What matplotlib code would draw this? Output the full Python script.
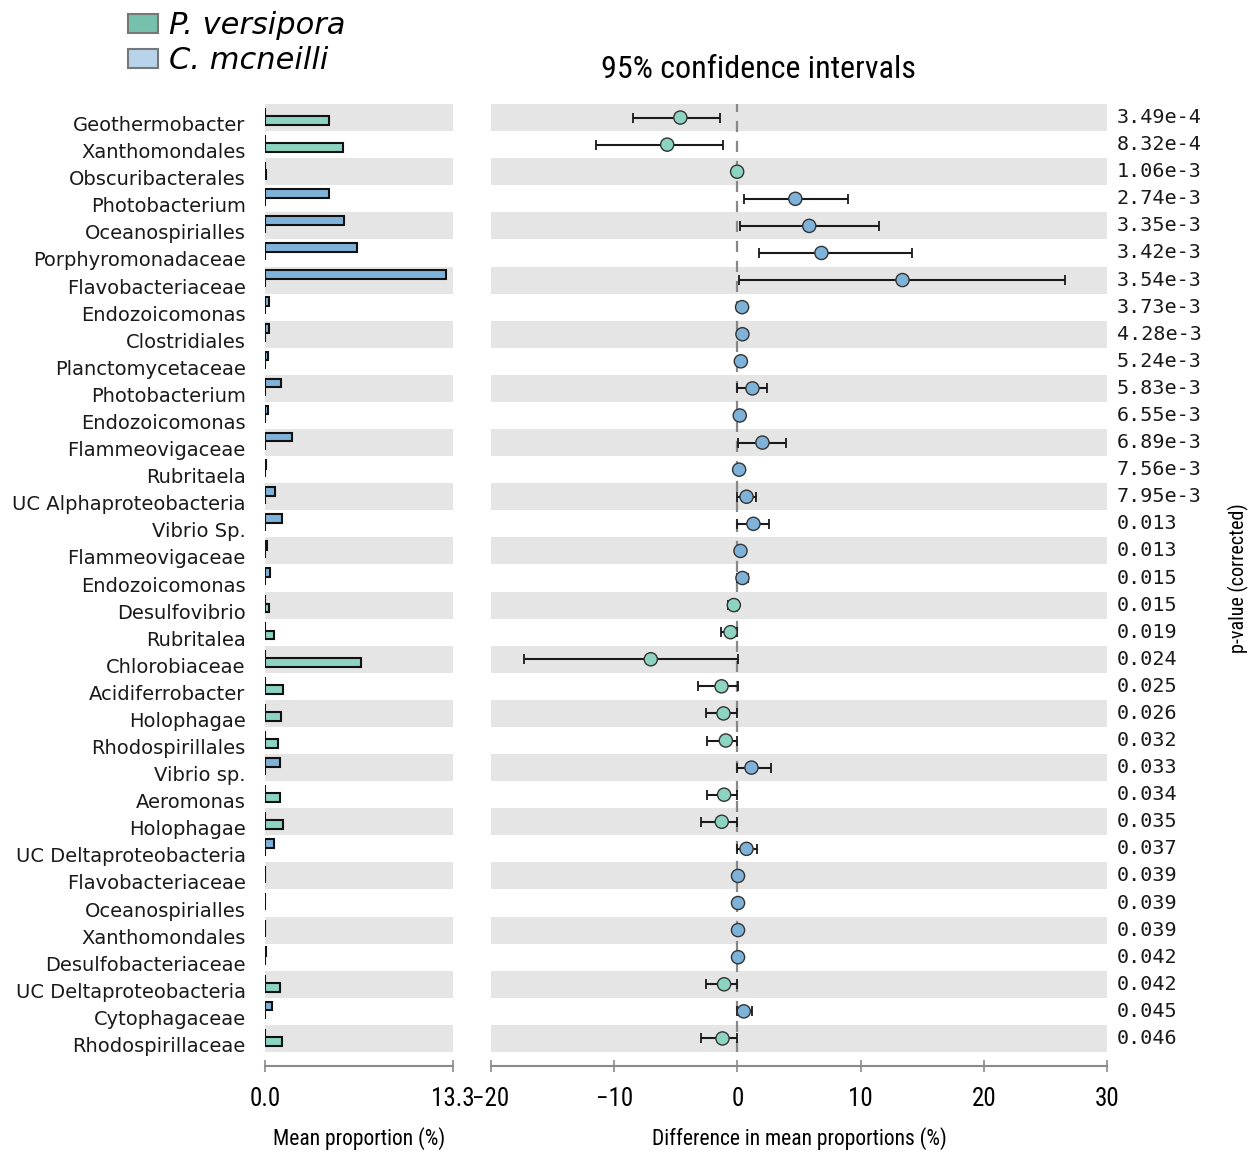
import matplotlib
matplotlib.use('Agg')
import matplotlib.pyplot as plt
import matplotlib.transforms as mtransforms
from matplotlib import font_manager
from matplotlib.patches import Patch
import numpy as np

# feature labels, top to bottom
features = [
    'Geothermobacter', 'Xanthomondales', 'Obscuribacterales', 'Photobacterium',
    'Oceanospirialles', 'Porphyromonadaceae', 'Flavobacteriaceae', 'Endozoicomonas',
    'Clostridiales', 'Planctomycetaceae', 'Photobacterium', 'Endozoicomonas',
    'Flammeovigaceae', 'Rubritaela', 'UC Alphaproteobacteria', 'Vibrio Sp.',
    'Flammeovigaceae', 'Endozoicomonas', 'Desulfovibrio', 'Rubritalea',
    'Chlorobiaceae', 'Acidiferrobacter', 'Holophagae', 'Rhodospirillales',
    'Vibrio sp.', 'Aeromonas', 'Holophagae', 'UC Deltaproteobacteria',
    'Flavobacteriaceae', 'Oceanospirialles', 'Xanthomondales', 'Desulfobacteriaceae',
    'UC Deltaproteobacteria', 'Cytophagaceae', 'Rhodospirillaceae',
]

# mean proportion (%) per group
prop_versipora = [
    4.5, 5.5, 0.05, 0.0, 0.0, 0.0, 0.0, 0.0,
    0.0, 0.0, 0.0, 0.0, 0.0, 0.0, 0.0, 0.0,
    0.0, 0.0, 0.3, 0.62, 6.8, 1.3, 1.11, 0.95,
    0.0, 1.07, 1.26, 0.0, 0.0, 0.0, 0.0, 0.0,
    1.09, 0.0, 1.21,
]
prop_mcneilli = [
    0.0, 0.0, 0.0, 4.5, 5.6, 6.5, 12.8, 0.3,
    0.3, 0.23, 1.14, 0.19, 1.92, 0.05, 0.69, 1.21,
    0.16, 0.38, 0.0, 0.0, 0.0, 0.0, 0.0, 0.0,
    1.09, 0.0, 0.0, 0.66, 0.03, 0.03, 0.03, 0.05,
    0.0, 0.5, 0.0,
]

# difference in mean proportions and 95% CI
diff = [
    -4.63, -5.70, -0.02, 4.70, 5.83, 6.82, 13.40, 0.38,
    0.41, 0.28, 1.22, 0.19, 2.03, 0.14, 0.74, 1.30,
    0.25, 0.41, -0.29, -0.56, -7.03, -1.29, -1.13, -0.94,
    1.14, -1.08, -1.27, 0.74, 0.05, 0.05, 0.05, 0.05,
    -1.08, 0.52, -1.21,
]
ci_low = [
    -8.49, -11.44, -0.10, 0.53, 0.24, 1.72, 0.15, 0.05,
    0.08, 0.05, 0.0, 0.02, 0.08, 0.0, 0.0, 0.0,
    0.05, 0.0, -0.75, -1.32, -17.31, -3.19, -2.54, -2.46,
    0.0, -2.46, -2.97, 0.0, 0.0, 0.0, 0.0, 0.0,
    -2.56, 0.0, -2.97,
]
ci_high = [
    -1.40, -1.20, 0.0, 8.97, 11.51, 14.17, 26.56, 0.72,
    0.74, 0.50, 2.39, 0.36, 3.98, 0.28, 1.49, 2.58,
    0.45, 0.87, 0.08, 0.0, 0.06, 0.06, 0.0, 0.0,
    2.71, 0.0, 0.0, 1.60, 0.10, 0.10, 0.10, 0.10,
    0.0, 1.17, 0.0,
]

p_values = [
    '3.49e-4', '8.32e-4', '1.06e-3', '2.74e-3', '3.35e-3', '3.42e-3', '3.54e-3',
    '3.73e-3', '4.28e-3', '5.24e-3', '5.83e-3', '6.55e-3', '6.89e-3', '7.56e-3',
    '7.95e-3', '0.013', '0.013', '0.015', '0.015', '0.019', '0.024', '0.025',
    '0.026', '0.032', '0.033', '0.034', '0.035', '0.037', '0.039', '0.039',
    '0.039', '0.042', '0.042', '0.045', '0.046',
]

TEAL = '#8cd3c1'
BLUE = '#7fb2d8'
LEG_TEAL = '#76c0ae'
LEG_BLUE = '#b7d4ea'
BAND = '#e5e5e5'
AXIS_GREY = '#8a8a8a'

# pick a narrow font for axis text if one is around
names = {f.name for f in font_manager.fontManager.ttflist}
COND = 'DejaVu Sans'
for cand in ['DejaVu Sans Condensed', 'Liberation Sans Narrow', 'Roboto Condensed']:
    if cand in names:
        COND = cand
        break

n = len(features)
y = np.arange(n)

fig = plt.figure(figsize=(12.56, 11.53), dpi=100)
ax1 = fig.add_axes([265 / 1256, 1 - 1052 / 1153, 188 / 1256, 948 / 1153])
ax2 = fig.add_axes([491 / 1256, 1 - 1052 / 1153, 616 / 1256, 948 / 1153])

for ax in (ax1, ax2):
    for i in range(0, n, 2):
        ax.axhspan(i - 0.5, i + 0.5, color=BAND, lw=0, zorder=0)
    ax.set_ylim(n - 0.5, -0.5)
    for side in ('top', 'right', 'left'):
        ax.spines[side].set_visible(False)
    ax.spines['bottom'].set_color(AXIS_GREY)
    ax.spines['bottom'].set_linewidth(1.5)
    ax.spines['bottom'].set_position(('outward', 10))
    ax.tick_params(axis='x', direction='inout', length=9, width=1.2, color=AXIS_GREY,
                   labelsize=18, pad=11)

# mean proportion bars
ax1.barh(y - 0.2, prop_mcneilli, height=0.32, color=BLUE, edgecolor='#111111', lw=1.5, zorder=2)
ax1.barh(y + 0.11, prop_versipora, height=0.32, color=TEAL, edgecolor='#111111', lw=1.5, zorder=2)
ax1.set_xlim(0, 13.3)
ax1.set_xticks([0, 13.3])
ax1.set_xticklabels(['0.0', '13.3'], family=COND)
ax1.set_yticks(y)
ax1.set_yticklabels(features, fontsize=14, color='#1a1a1a')
ax1.tick_params(axis='y', length=0, pad=14)
offset = mtransforms.ScaledTranslation(0, -6 / 100, fig.dpi_scale_trans)
for lab in ax1.get_yticklabels():
    lab.set_transform(lab.get_transform() + offset)
ax1.set_xlabel('Mean proportion (%)', family=COND, fontsize=15.5, labelpad=11)

# confidence intervals
ax2.axvline(0, color='#888888', lw=1.6, ls=(0, (5, 4)), zorder=1)
d = np.array(diff)
err = np.vstack([d - np.array(ci_low), np.array(ci_high) - d])
ax2.errorbar(d, y, xerr=err, fmt='none', ecolor='#1a1a1a', elinewidth=1.5,
             capsize=3.8, capthick=1.3, zorder=2)
colors = [TEAL if v < 0 else BLUE for v in diff]
ax2.scatter(d, y, s=90, c=colors, edgecolors='#333333', linewidths=1.0, zorder=3)
ax2.set_xlim(-20, 30)
ax2.set_xticks([-20, -10, 0, 10, 20, 30])
ax2.set_xticklabels(['\u221220', '\u221210', '0', '10', '20', '30'], family=COND)
ax2.set_yticks([])
ax2.set_xlabel('Difference in mean proportions (%)', family=COND, fontsize=15.5, labelpad=11)

# p-values down the right side
trans = mtransforms.blended_transform_factory(ax2.transAxes, ax2.transData)
for i, p in enumerate(p_values):
    ax2.text(1.016, i, p, transform=trans, va='center', ha='left',
             family='DejaVu Sans Mono', fontsize=14.5, color='#1a1a1a')

fig.text(1238 / 1256, 1 - 578 / 1153, 'p-value (corrected)', rotation=90,
         ha='center', va='center', family=COND, fontsize=14.5)
fig.text(758 / 1256, 1 - 70 / 1153, '95% confidence intervals', ha='center', va='center',
         family=COND, fontsize=23)

handles = [Patch(facecolor=LEG_TEAL, edgecolor='#777777', lw=1.5),
           Patch(facecolor=LEG_BLUE, edgecolor='#777777', lw=1.5)]
fig.legend(handles, ['P. versipora', 'C. mcneilli'], loc='upper left',
           bbox_to_anchor=(125 / 1256, 1 - 8 / 1153), frameon=False,
           prop={'style': 'italic', 'size': 22}, handlelength=0.98, handleheight=0.6,
           handletextpad=0.36, labelspacing=0.2, borderaxespad=0, borderpad=0.1)

fig.savefig('out.png', dpi=100)
